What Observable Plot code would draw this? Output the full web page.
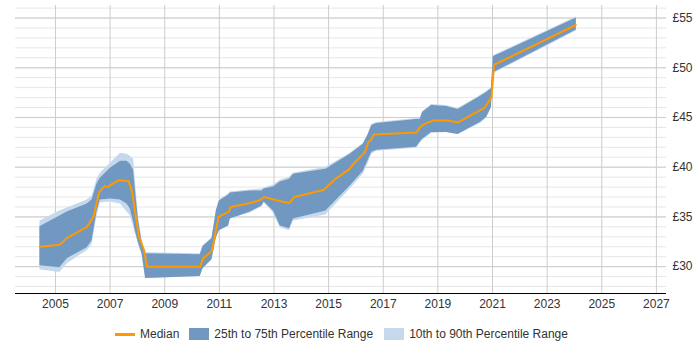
<!DOCTYPE html>
<html>
<head>
<meta charset="utf-8">
<script src="https://cdn.jsdelivr.net/npm/d3@7"></script>
<script src="https://cdn.jsdelivr.net/npm/@observablehq/plot@0.6"></script>
<style>
  body { margin: 0; background: #fff; font-family: "Liberation Sans", Arial, sans-serif; }
  #legend { display: flex; align-items: center; height: 28px; padding-left: 115px; font-size: 12px; color: #333; }
  #legend .line { width: 20px; height: 3px; background: #ff9900; margin-right: 5px; }
  #legend .sw { width: 20px; height: 12px; margin-right: 5px; }
  #legend .lab { margin-right: 10px; }
</style>
</head>
<body>
<div id="chart"></div>
<div id="legend">
  <span class="line"></span><span class="lab">Median</span>
  <span class="sw" style="background:#7198c1"></span><span class="lab" style="margin-right:11px">25th to 75th Percentile Range</span>
  <span class="sw" style="background:#c6d9ec"></span><span class="lab">10th to 90th Percentile Range</span>
</div>
<script>
const medianYears = [2004.43, 2005.16, 2005.43, 2006.16, 2006.4, 2006.6, 2006.8, 2006.91, 2007.01, 2007.31, 2007.68, 2007.8, 2008.05, 2008.25, 2008.35, 2010.3, 2010.4, 2010.73, 2010.97, 2011.34, 2011.42, 2012.13, 2012.5, 2012.64, 2013.35, 2013.57, 2013.74, 2014.81, 2015.24, 2015.76, 2015.93, 2016.33, 2016.45, 2016.54, 2016.66, 2018.22, 2018.37, 2018.56, 2018.83, 2019.38, 2019.74, 2020.72, 2020.96, 2021.06, 2024.05];
const medianValues = [32.0, 32.2, 32.9, 34.0, 35.1, 37.5, 38.1, 38.0, 38.2, 38.7, 38.6, 37.6, 33.1, 31.6, 30.0, 30.0, 30.8, 31.6, 35.0, 35.5, 36.0, 36.4, 36.7, 37.0, 36.5, 36.4, 37.0, 37.7, 38.8, 39.8, 40.4, 41.5, 42.5, 42.7, 43.3, 43.5, 44.1, 44.4, 44.7, 44.7, 44.5, 46.0, 47.0, 50.3, 54.3];

const bandYears = [2004.43, 2005.16, 2005.43, 2006.16, 2006.34, 2006.52, 2006.64, 2007.01, 2007.38, 2007.62, 2007.74, 2007.86, 2007.93, 2008.04, 2008.17, 2008.3, 2010.3, 2010.4, 2010.73, 2010.89, 2011.0, 2011.34, 2011.4, 2012.13, 2012.56, 2012.64, 2012.98, 2013.23, 2013.57, 2013.71, 2014.9, 2015.79, 2016.27, 2016.45, 2016.58, 2016.76, 2018.22, 2018.35, 2018.44, 2018.77, 2019.32, 2019.74, 2020.55, 2020.78, 2020.96, 2021.03, 2024.07];
const p10 = [29.7, 29.4, 30.3, 31.6, 32.2, 35.1, 36.4, 36.5, 36.3, 35.5, 35.1, 34.0, 33.3, 32.2, 31.2, 28.8, 29.0, 29.8, 30.7, 32.9, 33.6, 34.1, 34.8, 35.4, 36.0, 36.4, 35.4, 33.9, 33.6, 34.6, 35.2, 37.8, 39.3, 40.4, 41.3, 41.6, 41.9, 42.4, 42.7, 43.4, 43.5, 43.3, 44.4, 44.9, 45.9, 49.4, 53.7];
const p25 = [30.1, 29.9, 30.8, 31.9, 32.6, 35.5, 36.7, 36.8, 36.7, 36.3, 35.8, 34.5, 33.5, 32.4, 31.3, 28.8, 29.0, 29.8, 30.7, 32.9, 33.6, 34.1, 34.8, 35.5, 36.1, 36.5, 35.6, 34.1, 33.8, 34.8, 35.6, 38.1, 39.6, 40.7, 41.5, 41.7, 42.0, 42.5, 42.8, 43.5, 43.5, 43.3, 44.5, 45.0, 46.0, 49.5, 53.8];
const p75 = [34.0, 35.1, 35.5, 36.3, 36.7, 38.3, 38.9, 39.9, 40.6, 40.6, 40.3, 39.7, 37.6, 34.6, 32.5, 31.3, 31.2, 32.0, 32.8, 35.6, 36.6, 37.2, 37.4, 37.6, 37.6, 37.8, 38.0, 38.5, 38.8, 39.3, 39.8, 41.3, 42.3, 43.3, 44.2, 44.4, 44.8, 44.8, 45.5, 46.2, 46.1, 45.8, 47.1, 47.5, 47.9, 51.1, 55.0];
const p90 = [34.6, 35.6, 35.9, 36.7, 37.1, 38.8, 39.4, 40.4, 41.4, 41.3, 41.1, 40.8, 38.5, 35.0, 32.7, 31.4, 31.3, 32.1, 32.9, 35.7, 36.7, 37.3, 37.5, 37.7, 37.8, 37.9, 38.2, 38.7, 39.0, 39.4, 40.0, 41.4, 42.4, 43.3, 44.3, 44.5, 44.9, 44.9, 45.6, 46.3, 46.2, 45.9, 47.2, 47.6, 48.0, 51.2, 55.1];

const xTicks = [2005, 2007, 2009, 2011, 2013, 2015, 2017, 2019, 2021, 2023, 2025, 2027];
const yTicks = [30, 35, 40, 45, 50, 55];
const yMinor = d3.range(28, 57);

const median = medianYears.map((year, i) => ({year, value: medianValues[i]}));
const band = bandYears.map((year, i) => ({year, p10: p10[i], p25: p25[i], p75: p75[i], p90: p90[i]}));

const yMin = 27.3, yMax = 56.26;

const chart = Plot.plot({
  width: 700,
  height: 320,
  marginLeft: 15,
  marginRight: 34,
  marginTop: 5,
  marginBottom: 27,
  style: {fontFamily: "'Liberation Sans', Arial, sans-serif", fontSize: "12px", color: "#333", background: "#fff"},
  x: {domain: [2003.537, 2027.37], label: null},
  y: {domain: [yMin, yMax], label: null},
  marks: [
    Plot.ruleY(yMinor, {stroke: "#e6e6e6"}),
    Plot.ruleY(yTicks, {stroke: "#cccccc"}),
    Plot.ruleX(xTicks, {stroke: "#cccccc"}),
    Plot.areaY(band, {x: "year", y1: "p10", y2: "p90", fill: "#c6d9ec"}),
    Plot.areaY(band, {x: "year", y1: "p25", y2: "p75", fill: "#7198c1"}),
    Plot.line(median, {x: "year", y: "value", stroke: "#ff9900", strokeWidth: 2}),
    Plot.ruleY([yMin], {stroke: "#000"}),
    Plot.axisX(xTicks, {label: null, tickSize: 0, tickPadding: 6, tickFormat: d => String(d), fill: "#333", fontSize: 12}),
    Plot.axisY(yTicks, {label: null, anchor: "right", tickSize: 0, tickPadding: 6, tickFormat: d => "£" + d, fill: "#333", fontSize: 12})
  ]
});
document.getElementById("chart").appendChild(chart);
</script>
</body>
</html>
